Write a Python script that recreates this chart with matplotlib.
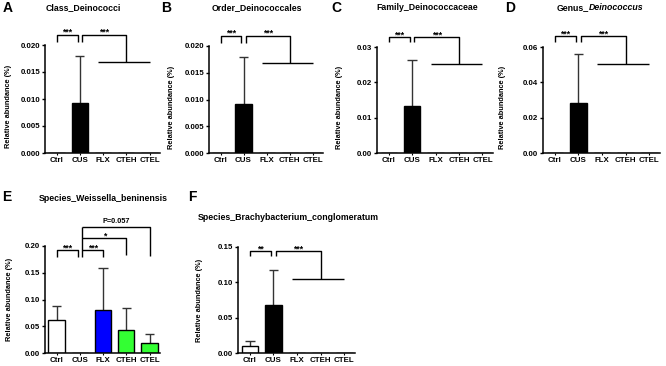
import numpy as np
import matplotlib
matplotlib.use("Agg")
import matplotlib.pyplot as plt
from matplotlib.ticker import FormatStrFormatter

plt.rcParams['font.family'] = ['Liberation Sans', 'DejaVu Sans']
plt.rcParams['font.weight'] = 'bold'

W, H = 666, 366

groups = ["Ctrl", "CUS", "FLX", "CTEH", "CTEL"]
bar_colors = ["white", "black", "#0000ff", "#33ff33", "#33ff33"]

# mean and upper error (SD) of relative abundance (%)
class_mean = [0.0, 0.0092, 0.0, 0.0, 0.0]
class_err = [0.0, 0.0088, 0.0, 0.0, 0.0]
order_mean = [0.0, 0.0092, 0.0, 0.0, 0.0]
order_err = [0.0, 0.0088, 0.0, 0.0, 0.0]
family_mean = [0.0, 0.0132, 0.0, 0.0, 0.0]
family_err = [0.0, 0.0130, 0.0, 0.0, 0.0]
genus_mean = [0.0, 0.0285, 0.0, 0.0, 0.0]
genus_err = [0.0, 0.0278, 0.0, 0.0, 0.0]
weis_mean = [0.0625, 0.0, 0.080, 0.0425, 0.0187]
weis_err = [0.025, 0.0, 0.078, 0.042, 0.0177]
brachy_mean = [0.0099, 0.0685, 0.0, 0.0, 0.0]
brachy_err = [0.0071, 0.0495, 0.0, 0.0, 0.0]

LW = 1.0
ERR_C = "#333333"


def fx(px):
    return px / W


def fy(py):
    return 1 - py / H


def make_axes(fig, left, right, top, bottom):
    return fig.add_axes([fx(left), fy(bottom), (right - left) / W, (bottom - top) / H])


def draw_bars(ax, means, errs, ymax, step, fmt, width_px, label_dx, label_y):
    x = np.arange(len(groups))
    ax.bar(x, means, width=0.7, color=bar_colors, edgecolor="black",
           linewidth=LW, zorder=2)
    for xi, m, e in zip(x, means, errs):
        if m > 0:
            ax.vlines(xi, m, m + e, color=ERR_C, lw=LW, zorder=1)
            ax.hlines(m + e, xi - 0.2, xi + 0.2, color=ERR_C, lw=LW, zorder=1)
    ax.set_xlim(-0.5, 4.45)
    ax.set_ylim(0, ymax)
    ax.set_yticks(np.arange(0, ymax + step / 2, step))
    ax.yaxis.set_major_formatter(FormatStrFormatter(fmt))
    ax.set_xticks(x)
    ax.set_xticklabels(groups)
    for s in ["top", "right"]:
        ax.spines[s].set_visible(False)
    for s in ["left", "bottom"]:
        ax.spines[s].set_linewidth(1.1)
    ax.tick_params(axis="y", length=2.5, width=1.0, pad=1, labelsize=5.7)
    ax.tick_params(axis="x", length=1.5, width=0.8, pad=1.5, labelsize=5.7)
    ax.set_ylabel("Relative abundance (%)", fontsize=5.3, fontweight="bold")
    ax.yaxis.set_label_coords(-label_dx / width_px, label_y)


def line(ax, xs, ys):
    ax.plot(xs, ys, color="black", lw=LW, clip_on=False, solid_capstyle="butt")


def star(ax, x, y, s, size=6.3):
    ax.text(x, y, s, ha="center", va="bottom", fontsize=size,
            fontweight="bold", clip_on=False)


def group_brackets(ax, h, tick, g, s1, s2, dy):
    # Ctrl vs CUS
    line(ax, [0, 0, 0.9, 0.9], [tick, h, h, tick])
    star(ax, 0.45, h - dy, s1)
    # CUS vs treated groups
    line(ax, [1.1, 1.1, 3, 3], [tick, h, h, g])
    line(ax, [1.8, 4.0], [g, g])
    star(ax, 2.05, h - dy, s2)


fig = plt.figure(figsize=(W / 100, H / 100), dpi=100)

# top row
axA = make_axes(fig, 45, 160, 45, 153)
draw_bars(axA, class_mean, class_err, 0.02, 0.005, "%.3f", 115, 33, 0.43)
group_brackets(axA, 0.0219, 0.0206, 0.0168, "***", "***", 0.0004)

axB = make_axes(fig, 209, 323, 46, 153)
draw_bars(axB, order_mean, order_err, 0.02, 0.005, "%.3f", 114, 34, 0.43)
group_brackets(axB, 0.0219, 0.0206, 0.0168, "***", "***", 0.0004)

axC = make_axes(fig, 377, 493, 47, 153)
draw_bars(axC, family_mean, family_err, 0.03, 0.01, "%.2f", 116, 34, 0.43)
group_brackets(axC, 0.0328, 0.0313, 0.0252, "***", "***", 0.0006)

axD = make_axes(fig, 543, 660, 47, 153)
draw_bars(axD, genus_mean, genus_err, 0.06, 0.02, "%.2f", 117, 37, 0.43)
group_brackets(axD, 0.0660, 0.0628, 0.0505, "***", "***", 0.0012)

# bottom row
axE = make_axes(fig, 45, 160, 246, 353)
draw_bars(axE, weis_mean, weis_err, 0.20, 0.05, "%.2f", 115, 32, 0.5)
line(axE, [0, 0, 0.9, 0.9], [0.179, 0.1925, 0.1925, 0.179])
line(axE, [1.1, 1.1], [0.179, 0.236])
line(axE, [1.1, 2, 2], [0.1925, 0.1925, 0.179])
line(axE, [1.1, 3, 3], [0.215, 0.215, 0.183])
line(axE, [1.1, 4, 4], [0.236, 0.236, 0.181])
star(axE, 0.45, 0.1885, "***")
star(axE, 1.55, 0.1885, "***")
star(axE, 2.05, 0.211, "*")
axE.text(2.55, 0.239, "P=0.057", ha="center", va="bottom", fontsize=5.3,
         fontweight="bold", clip_on=False)

axF = make_axes(fig, 238, 355, 247, 353)
draw_bars(axF, brachy_mean, brachy_err, 0.15, 0.05, "%.2f", 117, 35, 0.5)
group_brackets(axF, 0.144, 0.137, 0.105, "**", "***", 0.003)

# panel letters
for letter, px, py in [("A", 8, 8), ("B", 166, 8), ("C", 336, 8), ("D", 510, 8),
                       ("E", 7, 197), ("F", 192, 197)]:
    fig.text(fx(px), fy(py), letter, fontsize=10, fontweight="bold",
             ha="center", va="center")

# panel titles
tsize = 6.3
for title, px, py in [("Class_Deinococci", 83, 8), ("Order_Deinococcales", 257, 8),
                      ("Family_Deinococcaceae", 427, 8),
                      ("Species_Weissella_beninensis", 103, 198),
                      ("Species_Brachybacterium_conglomeratum", 288, 217)]:
    fig.text(fx(px), fy(py), title, fontsize=tsize, fontweight="bold",
             ha="center", va="center")
fig.text(fx(589), fy(8), "Genus_", fontsize=tsize, fontweight="bold",
         ha="right", va="center")
fig.text(fx(589), fy(8), "Deinococcus", fontsize=tsize, fontweight="bold",
         style="italic", ha="left", va="center")

fig.savefig("out.png", dpi=100)
